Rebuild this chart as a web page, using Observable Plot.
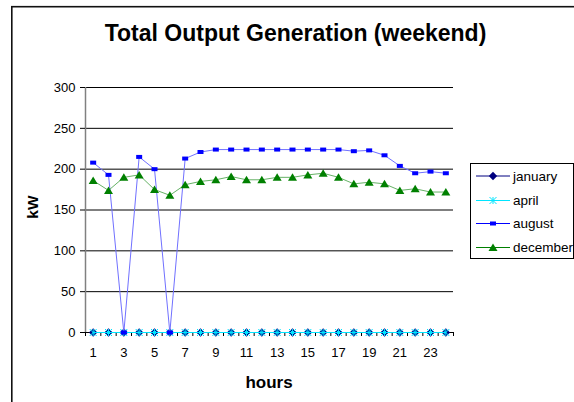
<!DOCTYPE html>
<html><head><meta charset="utf-8">
<script src="https://cdn.jsdelivr.net/npm/d3@7"></script>
<script src="https://cdn.jsdelivr.net/npm/@observablehq/plot@0.6"></script>
<style>
body{margin:0;background:#fff;}
#chart{position:relative;width:574px;height:402px;overflow:hidden;}
#chart svg{font-family:"Liberation Sans",Arial,sans-serif;}
</style>
</head><body><div id="chart"></div>
<script>
const hours = [1,2,3,4,5,6,7,8,9,10,11,12,13,14,15,16,17,18,19,20,21,22,23,24];
const january = [0,0,0,0,0,0,0,0,0,0,0,0,0,0,0,0,0,0,0,0,0,0,0,0];
const april   = [0,0,0,0,0,0,0,0,0,0,0,0,0,0,0,0,0,0,0,0,0,0,0,0];
const august  = [208,193,0,215,200,0,213,221,224,224,224,224,224,224,224,224,224,222,223,217,204,195,197,195];
const december= [186,174,190,193,175,168,181,185,187,191,187,187,190,190,193,195,190,182,184,182,174,176,172,172];
const seriesNames = ["january","april","august","december"];
const yTicks = [0,50,100,150,200,250,300];
const xTickLabels = [1,3,5,7,9,11,13,15,17,19,21,23];

const font = '"Liberation Sans", Arial, sans-serif';

const symDiamond = {draw(c){c.moveTo(0,-4.2);c.lineTo(4.2,0);c.lineTo(0,4.2);c.lineTo(-4.2,0);c.closePath();}};
const symRect = {draw(c){c.moveTo(-3,-2);c.lineTo(3,-2);c.lineTo(3,2);c.lineTo(-3,2);c.closePath();}};
const symTri = {draw(c){c.moveTo(0,-4);c.lineTo(4.5,3.5);c.lineTo(-4.5,3.5);c.closePath();}};
const symX = {draw(c){c.moveTo(-3.5,-3.5);c.lineTo(3.5,3.5);c.moveTo(3.5,-3.5);c.lineTo(-3.5,3.5);c.moveTo(0,-3.5);c.lineTo(0,3.5);}};

const series = [
  {name:seriesNames[0], values:january, color:"#000080", lineColor:"#000080", symbol:symDiamond, filled:true},
  {name:seriesNames[1], values:april, color:"#00e5ff", lineColor:"#00e5ff", symbol:symX, filled:false},
  {name:seriesNames[2], values:august, color:"#0000ff", lineColor:"#7070ff", symbol:symRect, filled:true},
  {name:seriesNames[3], values:december, color:"#008000", lineColor:"#66b266", symbol:symTri, filled:true}
];

const boundaries = d3.range(0, 25).map(i => i + 0.5);

const marks = [
  Plot.ruleY(yTicks.filter(d => d > 0), {stroke:"#000", strokeWidth:1}),
  Plot.ruleX([0.5], {y1:0, y2:300, stroke:"#808080", strokeWidth:1.5}),
  Plot.ruleY([0], {stroke:"#000", strokeWidth:1}),
  Plot.axisY({ticks:yTicks, tickSize:5, tickPadding:5, label:null, fontSize:13, tickFormat:d=>String(d), stroke:"#000"}),
  Plot.axisX({ticks:boundaries, tickSize:4, tickFormat:()=>"", label:null}),
  Plot.axisX({ticks:xTickLabels, tickSize:0, tickPadding:15, label:null, fontSize:13, tickFormat:d=>String(d)})
];
for (const s of series) {
  marks.push(Plot.line(hours, {x:d=>d, y:(d,i)=>s.values[i], stroke:s.lineColor, strokeWidth:1}));
  marks.push(Plot.dot(hours, {x:d=>d, y:(d,i)=>s.values[i], symbol:s.symbol, r:4,
    fill: s.filled ? s.color : "none", stroke: s.filled ? "none" : s.color, strokeWidth:1}));
}

const plot = Plot.plot({
  width:574, height:402,
  marginLeft:85, marginRight:121, marginTop:87, marginBottom:70,
  style:{fontFamily:font, fontSize:"13px", color:"#000", background:"#fff"},
  x:{domain:[0.5,24.5], axis:null},
  y:{domain:[0,300], axis:null},
  marks
});
document.getElementById("chart").appendChild(plot);

const svg = d3.select(plot);
// chart border
svg.append("rect").attr("x",11.8).attr("y",6.7).attr("width",600).attr("height",420)
  .attr("fill","none").attr("stroke","#111").attr("stroke-width",1.6);
// title
svg.append("text").attr("x",295.5).attr("y",41).attr("text-anchor","middle")
  .attr("font-family",font).attr("font-size",23).attr("font-weight","bold").text("Total Output Generation (weekend)");
// axis titles
svg.append("text").attr("x",269).attr("y",388).attr("text-anchor","middle")
  .attr("font-family",font).attr("font-size",17).attr("font-weight","bold").text("hours");
svg.append("text").attr("transform","translate(37.5,207) rotate(-90)").attr("text-anchor","middle")
  .attr("font-family",font).attr("font-size",15.5).attr("font-weight","bold").text("kW");
// legend
const lg = svg.append("g");
lg.append("rect").attr("x",470.5).attr("y",163.5).attr("width",103).attr("height",95)
  .attr("fill","#fff").attr("stroke","#000").attr("stroke-width",1);
const legendY = [176, 200.5, 223.5, 247.5];
series.forEach((s, i) => {
  const y = legendY[i];
  lg.append("line").attr("x1",476).attr("x2",510).attr("y1",y).attr("y2",y)
    .attr("stroke",s.color).attr("stroke-width",1);
  lg.append("path").attr("transform",`translate(493,${y})`).attr("d",d3.symbol(s.symbol)())
    .attr("fill",s.filled ? s.color : "none").attr("stroke",s.filled ? "none" : s.color);
  lg.append("text").attr("x",513).attr("y",y).attr("dy","0.35em").attr("text-anchor","start")
    .attr("font-family",font).attr("font-size",13.5).text(s.name);
});
</script>
</body></html>
